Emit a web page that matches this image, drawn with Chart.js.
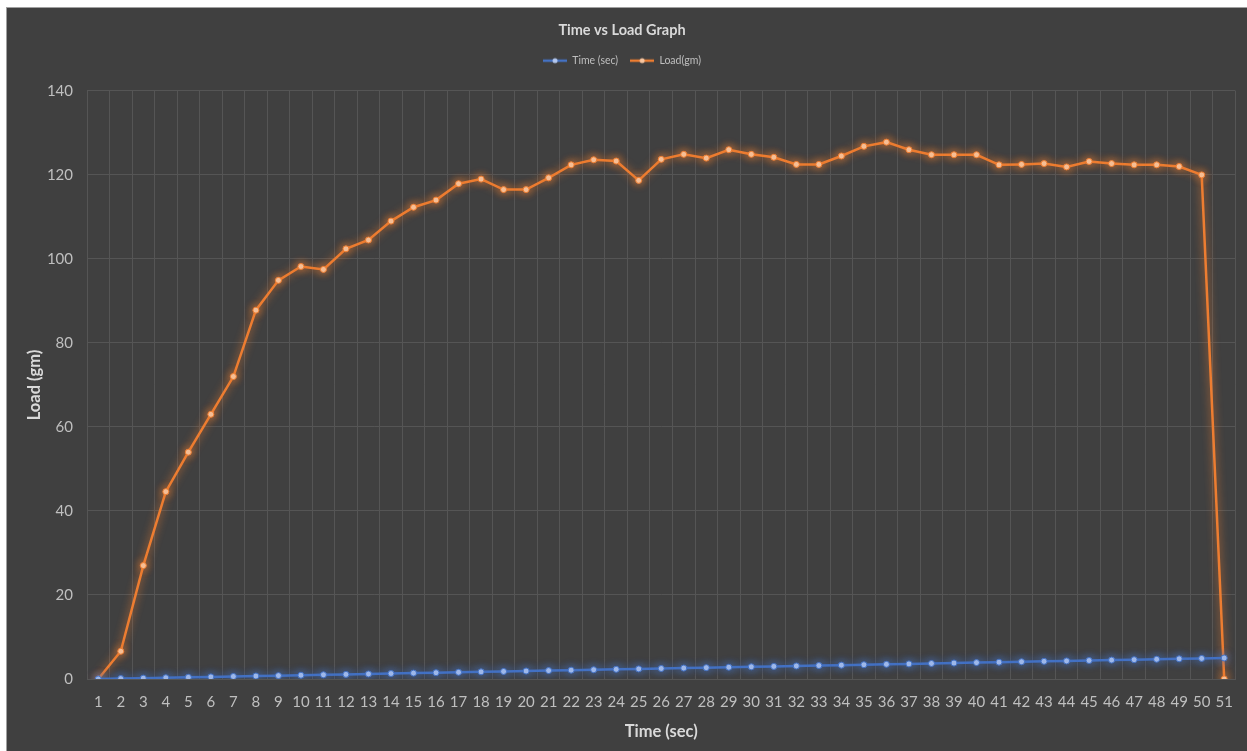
<!DOCTYPE html>
<html><head><meta charset="utf-8">
<script src="https://cdn.jsdelivr.net/npm/chart.js@4.4.1/dist/chart.umd.min.js"></script>
<style>
html,body{margin:0;padding:0;background:#ffffff;width:1247px;height:751px;overflow:hidden;}
#wrap{position:absolute;left:6px;top:7px;width:1240px;height:743px;background:#404040;border-left:1px solid #a0a0a0;border-top:1px solid #a0a0a0;}
canvas{display:block}
</style></head><body>
<div id="wrap"><canvas id="c" width="1240" height="743"></canvas></div>
<script>
const categories = ['1','2','3','4','5','6','7','8','9','10','11','12','13','14','15','16','17','18','19','20','21','22','23','24','25','26','27','28','29','30','31','32','33','34','35','36','37','38','39','40','41','42','43','44','45','46','47','48','49','50','51'];
const timeSec = [0,0.1,0.2,0.3,0.4,0.5,0.6,0.7,0.8,0.9,1.0,1.1,1.2,1.3,1.4,1.5,1.6,1.7,1.8,1.9,2.0,2.1,2.2,2.3,2.4,2.5,2.6,2.7,2.8,2.9,3.0,3.1,3.2,3.3,3.4,3.5,3.6,3.7,3.8,3.9,4.0,4.1,4.2,4.3,4.4,4.5,4.6,4.7,4.8,4.9,5.0];
const loadGm = [0,6.6,27,44.6,54,63,72,87.8,94.9,98.2,97.5,102.4,104.5,109,112.3,114,117.9,119,116.5,116.5,119.3,122.4,123.6,123.3,118.7,123.7,124.9,124,126,124.9,124.2,122.5,122.5,124.5,126.8,127.8,126,124.8,124.8,124.8,122.4,122.5,122.7,121.9,123.2,122.7,122.4,122.4,122,120,0];
const yTicks = [0,20,40,60,80,100,120,140];

const FONT = 'Lato, "Open Sans", sans-serif';
const BLUE = '#4472C4', ORANGE = '#ED7D31';

function legendMarker(color, dot){
  const c = document.createElement('canvas');
  c.width = 24; c.height = 8;
  const x = c.getContext('2d');
  x.strokeStyle = color; x.lineWidth = 2.5;
  x.beginPath(); x.moveTo(0,4); x.lineTo(24,4); x.stroke();
  x.fillStyle = dot; x.beginPath(); x.arc(12,4,2.5,0,Math.PI*2); x.fill();
  return c;
}
const markers = [legendMarker(BLUE,'#b3c7ee'), legendMarker(ORANGE,'#f8c6a0')];

const glow = {
  id:'glow',
  beforeDatasetDraw(chart,args){
    const ctx = chart.ctx; ctx.save();
    ctx.shadowColor = args.index===1 ? 'rgba(237,125,49,0.95)' : 'rgba(68,114,196,0.95)';
    ctx.shadowBlur = 8;
  },
  afterDatasetDraw(chart){ chart.ctx.restore(); }
};
const legendGap = {
  id:'legendGap',
  beforeLayout(chart){
    const lg = chart.legend;
    if(lg && !lg._gapWrapped){
      const f = lg.fit.bind(lg);
      lg.fit = function(){ f(); this.height += 15; };
      lg._gapWrapped = true;
    }
  }
};

new Chart(document.getElementById('c'), {
  type:'line',
  data:{
    labels: categories,
    datasets:[
      {label:'Time (sec)', data: timeSec, borderColor: BLUE, backgroundColor: BLUE, borderWidth: 2.5,
       pointRadius: 3, pointBackgroundColor:'#a9c1ef', pointBorderColor: BLUE, pointBorderWidth: 1, tension: 0},
      {label:'Load(gm)', data: loadGm, borderColor: ORANGE, backgroundColor: ORANGE, borderWidth: 2.5,
       pointRadius: 3, pointBackgroundColor:'#f8c6a0', pointBorderColor: ORANGE, pointBorderWidth: 1, tension: 0}
    ]
  },
  options:{
    responsive:false, animation:false, devicePixelRatio:1,
    layout:{padding:{left:0,right:10,top:0,bottom:0}},
    plugins:{
      title:{display:true, text:'Time vs Load Graph', color:'#d9d9d9', font:{family:FONT, size:14.5, weight:'bold'}, padding:{top:14,bottom:4}},
      legend:{display:true, position:'top',
        labels:{color:'#bfbfbf', font:{family:FONT, size:10.5}, padding:12, usePointStyle:true, pointStyleWidth:24,
          generateLabels(chart){
            return chart.data.datasets.map((d,i)=>({text:d.label, fillStyle:d.borderColor, strokeStyle:d.borderColor, lineWidth:0, pointStyle:markers[i], datasetIndex:i, hidden:false, fontColor:'#bfbfbf'}));
          }}},
      tooltip:{enabled:false}
    },
    scales:{
      x:{type:'category', offset:true,
        grid:{offset:true, color:'#555555', lineWidth:1, drawTicks:false},
        border:{display:true, color:'#555555'},
        ticks:{color:'#bfbfbf', font:{family:FONT, size:15}, padding:14, maxRotation:0, autoSkip:false},
        title:{display:true, text:'Time (sec)', color:'#d9d9d9', font:{family:FONT, size:16.5, weight:'bold'}, padding:{top:0,bottom:9}},
        afterFit(s){ s.height = 72; }
      },
      y:{min:0, max:140,
        afterBuildTicks(s){ s.ticks = yTicks.map(v=>({value:v})); },
        grid:{color:'#555555', lineWidth:1, drawTicks:false},
        border:{display:true, color:'#555555'},
        ticks:{color:'#bfbfbf', font:{family:FONT, size:15}, padding:14},
        title:{display:true, text:'Load (gm)', color:'#d9d9d9', font:{family:FONT, size:16.5, weight:'bold'}, padding:{top:18,bottom:0}},
        afterFit(s){ s.width = 80; }
      }
    }
  },
  plugins:[glow, legendGap]
});
</script>
</body></html>
